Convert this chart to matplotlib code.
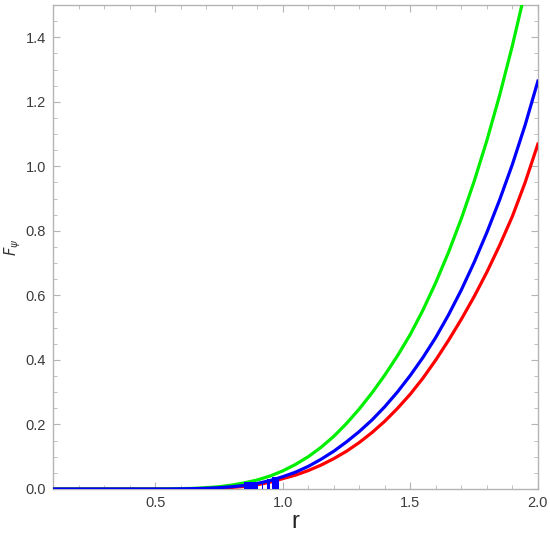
import numpy as np
import matplotlib
matplotlib.use("Agg")
import matplotlib.pyplot as plt
from matplotlib.ticker import MultipleLocator

plt.rcParams["font.family"] = ["Liberation Sans", "DejaVu Sans"]

# values
r_green = [0.1, 0.5, 0.55, 0.6, 0.65, 0.7, 0.75, 0.8, 0.85, 0.9, 0.95, 1.0,
           1.05, 1.1, 1.15, 1.2, 1.25, 1.3, 1.35, 1.4, 1.45, 1.5, 1.55, 1.6,
           1.65, 1.7, 1.75, 1.8, 1.85, 1.9, 1.95]
F_green = [0.0, 0.0, 0.0003, 0.001, 0.002, 0.004, 0.007, 0.012, 0.019, 0.028,
           0.040, 0.056, 0.076, 0.100, 0.129, 0.163, 0.203, 0.248, 0.298,
           0.353, 0.413, 0.479, 0.555, 0.640, 0.734, 0.838, 0.953, 1.080,
           1.220, 1.374, 1.543]

r_blue = [0.1, 0.55, 0.6, 0.65, 0.7, 0.75, 0.8, 0.85, 0.9, 0.95, 1.0, 1.05,
          1.1, 1.15, 1.2, 1.25, 1.3, 1.35, 1.4, 1.45, 1.5, 1.55, 1.6, 1.65,
          1.7, 1.75, 1.8, 1.85, 1.9, 1.95, 2.0]
F_blue = [0.0, 0.0, 0.0005, 0.001, 0.002, 0.004, 0.007, 0.011, 0.017, 0.026,
          0.038, 0.052, 0.070, 0.092, 0.117, 0.146, 0.178, 0.214, 0.255,
          0.301, 0.352, 0.408, 0.470, 0.540, 0.617, 0.702, 0.795, 0.896,
          1.006, 1.128, 1.264]

r_red = [0.1, 0.6, 0.65, 0.7, 0.75, 0.8, 0.85, 0.9, 0.95, 1.0, 1.05, 1.1,
         1.15, 1.2, 1.25, 1.3, 1.35, 1.4, 1.45, 1.5, 1.55, 1.6, 1.65, 1.7,
         1.75, 1.8, 1.85, 1.9, 1.95, 2.0]
F_red = [0.0, 0.0003, 0.0007, 0.0015, 0.003, 0.005, 0.008, 0.013, 0.021,
         0.032, 0.043, 0.057, 0.074, 0.094, 0.117, 0.144, 0.175, 0.210,
         0.250, 0.294, 0.344, 0.400, 0.461, 0.526, 0.596, 0.672, 0.755,
         0.845, 0.950, 1.069]

# blue numerical artefact bands near r ~ 0.85-0.98
spike_left = [0.848, 0.918, 0.938, 0.958]
spike_width = [0.057, 0.005, 0.012, 0.027]
spike_height = [0.023, 0.026, 0.032, 0.038]

frame = "#b4b4b4"
tick_txt = "#3c3c3c"

fig = plt.figure(figsize=(5.5, 5.35), dpi=100)
ax = fig.add_axes([0.0964, 0.086, 0.8816, 0.9047])

ax.plot(r_red, F_red, color="#ff0000", lw=2.3, zorder=3)
ax.plot(r_green, F_green, color="#00ee00", lw=2.3, zorder=3)
ax.bar(spike_left, spike_height, width=spike_width, align="edge",
       color="#0000ff", lw=0, zorder=4)
ax.plot(r_blue, F_blue, color="#0000ff", lw=2.3, zorder=4)

ax.set_xlim(0.1, 2.0)
ax.set_ylim(0.0, 1.5)
ax.xaxis.set_minor_locator(MultipleLocator(0.1))
ax.yaxis.set_major_locator(MultipleLocator(0.2))
ax.yaxis.set_minor_locator(MultipleLocator(0.05))
ax.set_xticks([0.5, 1.0, 1.5, 2.0])
ax.set_xticklabels(["0.5", "1.0", "1.5", "2.0"])

for s in ax.spines.values():
    s.set_color(frame)
    s.set_linewidth(1.0)
ax.tick_params(which="both", direction="in", top=True, right=True,
               color=frame, labelcolor=tick_txt, labelsize=10.5)
ax.tick_params(which="major", length=5, width=0.8, pad=5)
ax.tick_params(which="minor", length=3, width=0.6)

ax.set_xlabel("r", fontsize=17, color="#222222", labelpad=1)
ax.set_ylabel(r"$F_{\psi}$", fontsize=10.5, color="#333333", labelpad=2)

fig.savefig("out.png", dpi=100)
